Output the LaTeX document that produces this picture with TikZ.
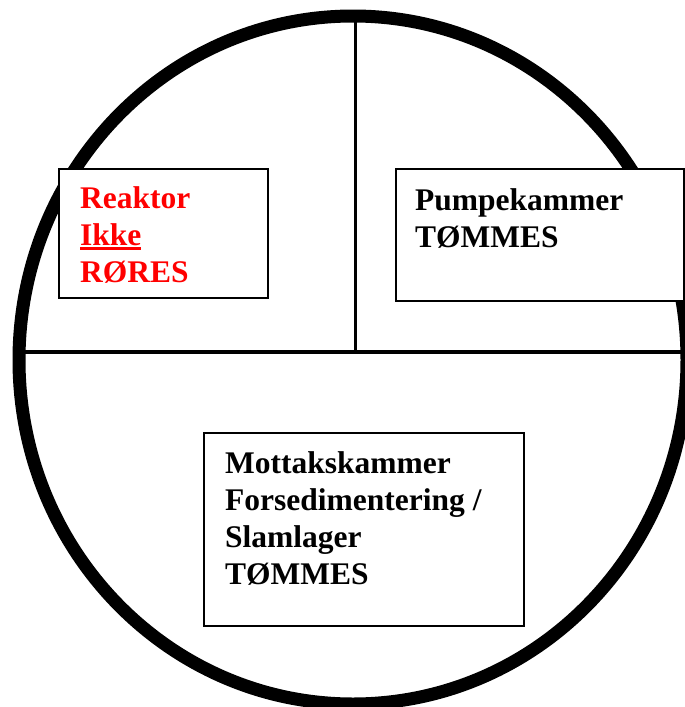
\documentclass[tikz,border=0pt]{standalone}
\usepackage{fontspec}
\setmainfont{Liberation Serif}
\usepackage{tikz}
\usetikzlibrary{positioning}
\newcommand{\understrek}[1]{\leavevmode\vtop{\hbox{#1}\kern2pt\hrule height 3pt}}

\begin{document}
\begin{tikzpicture}[x=1pt, y=-1pt,
  kammer/.style={draw, line width=2pt, fill=white, inner sep=0pt, anchor=north west},
  tekst/.style={anchor=base west, align=left, inner sep=0pt,
    font=\fontsize{31.5}{37}\selectfont\bfseries}]
\useasboundingbox (0,0) rectangle (685,707);
\clip (0,0) rectangle (685,707);
% Tanken
\draw[line width=13pt] (353,360) ellipse [x radius=334, y radius=344];
\draw[line width=4pt] (19,352) -- (685,352);
\draw[line width=3pt] (355,16) -- (355,352);

% Reaktor (grunnlinje for siste linje)
\node[kammer, minimum width=209, minimum height=129] (reaktorboks) at (58,168) {};
\node[tekst, red] (reaktor) at (80,282) {Reaktor\\\understrek{Ikke}\\RØRES};

% Pumpekammer
\node[kammer, minimum width=288, minimum height=132] (pumpeboks) at (395,168) {};
\node[tekst] (pumpe) at (415,247) {Pumpekammer\\TØMMES};

% Mottakskammer
\node[kammer, minimum width=320, minimum height=193] (mottakboks) at (203,432) {};
\node[tekst] (mottak) at (225,584) {Mottakskammer\\Forsedimentering /\\Slamlager\\TØMMES};
\end{tikzpicture}
\end{document}
